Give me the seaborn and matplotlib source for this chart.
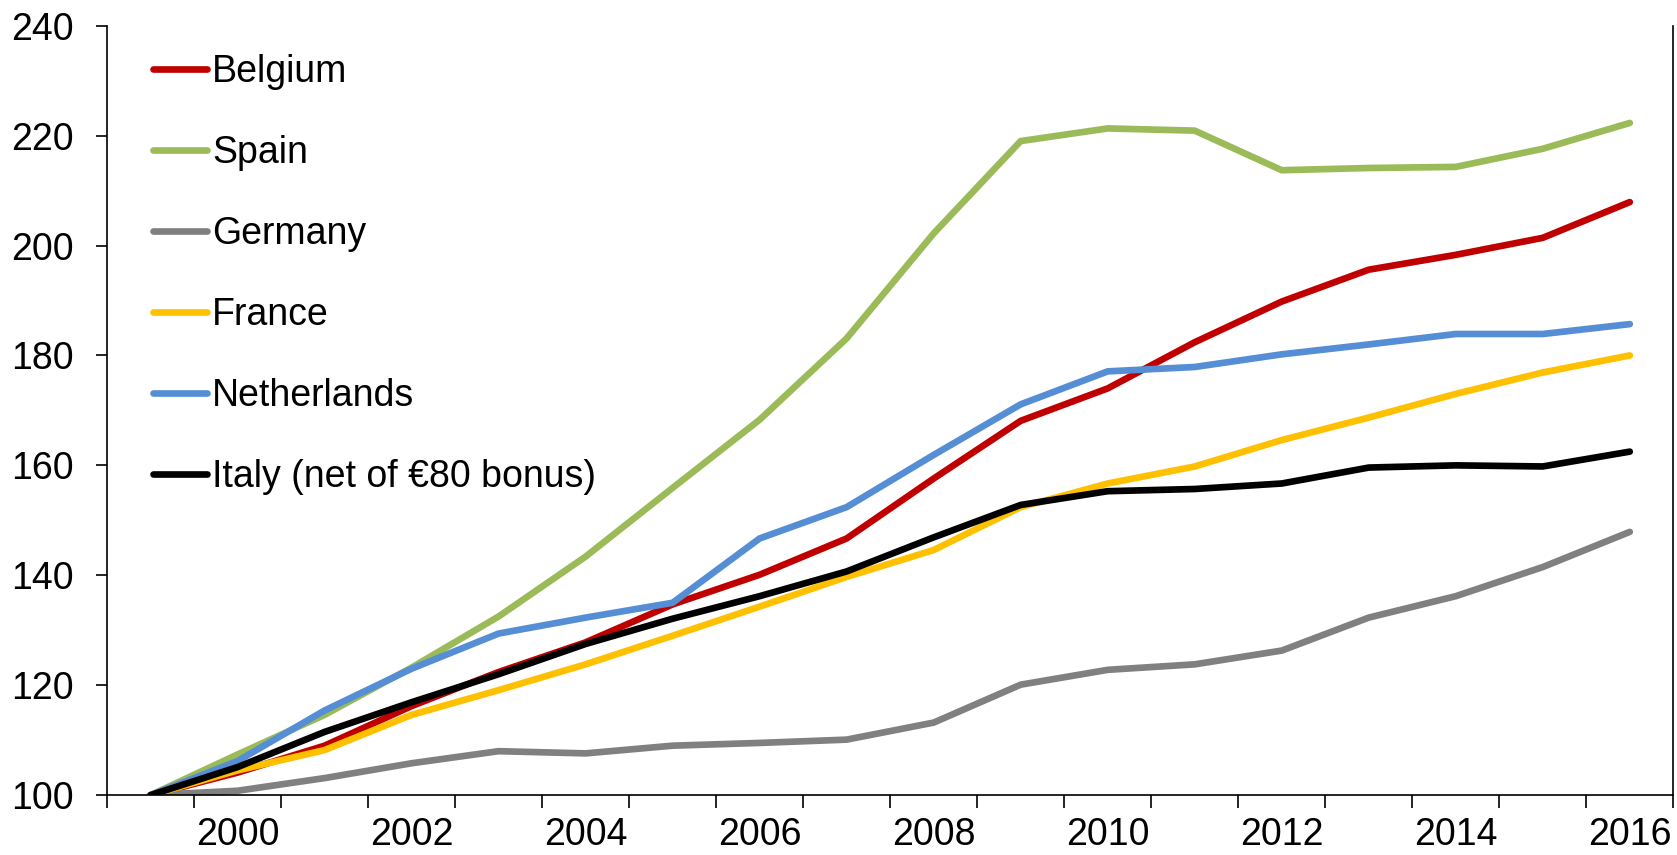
import pandas as pd
import matplotlib.pyplot as plt
import seaborn as sns

# Index values (1999 = 100)
years = list(range(1999, 2017))
belgium = [100, 104.1, 109.0, 116.2, 122.4, 127.8, 134.7, 140.1, 146.7, 157.6, 168.1, 174.0, 182.4, 189.8, 195.6, 198.3, 201.4, 207.9]
spain = [100, 107.4, 114.6, 123.2, 132.5, 143.4, 155.9, 168.3, 183.1, 202.2, 219.0, 221.3, 220.9, 213.7, 214.1, 214.3, 217.6, 222.3]
germany = [100, 100.8, 103.1, 105.8, 108.0, 107.6, 109.0, 109.5, 110.1, 113.2, 120.1, 122.8, 123.8, 126.3, 132.3, 136.2, 141.5, 147.9]
france = [100, 104.5, 108.2, 114.6, 119.1, 123.8, 129.0, 134.3, 139.7, 144.6, 152.4, 156.7, 159.8, 164.6, 168.7, 173.0, 176.9, 180.0]
netherlands = [100, 106.2, 115.4, 123.0, 129.4, 132.3, 135.0, 146.7, 152.4, 161.9, 171.1, 177.1, 177.9, 180.2, 182.0, 183.9, 183.9, 185.7]
italy = [100, 105.1, 111.5, 116.9, 122.0, 127.5, 132.1, 136.2, 140.7, 146.9, 152.8, 155.3, 155.7, 156.7, 159.6, 160.0, 159.8, 162.5]

series = {
    "Belgium": belgium,
    "Spain": spain,
    "Germany": germany,
    "France": france,
    "Netherlands": netherlands,
    "Italy (net of €80 bonus)": italy,
}
colors = ["#C00000", "#9BBB59", "#808080", "#FFC000", "#558ED5", "#000000"]

frames = []
for name, vals in series.items():
    frames.append(pd.DataFrame({"pos": range(len(years)), "value": vals, "country": name}))
df = pd.concat(frames, ignore_index=True)

sns.set_style("white", rc={"text.color": "black", "xtick.color": "black",
                           "ytick.color": "black", "axes.labelcolor": "black"})
plt.rcParams["font.family"] = ["Liberation Sans", "DejaVu Sans"]

fig = plt.figure(figsize=(16.77, 8.55), dpi=100)
ax = fig.add_axes([0.0638, 0.070, 0.934, 0.900])

sns.lineplot(data=df, x="pos", y="value", hue="country", palette=colors,
             linewidth=4.8, ax=ax, legend=True)

ax.set_xlim(-0.5, len(years) - 0.5)
ax.set_ylim(100, 240)
ax.set_yticks(range(100, 241, 20))
ax.set_xticks([i - 0.5 for i in range(len(years) + 1)])
ax.set_xticklabels([])
ax.set_xticks([i for i, y in enumerate(years) if y % 2 == 0], minor=True)
ax.set_xticklabels([str(y) for y in years if y % 2 == 0], minor=True)
ax.tick_params(axis="x", which="major", bottom=True, direction="out", length=9, width=1.2, color="black")
ax.tick_params(axis="x", which="minor", bottom=True, length=0, pad=16, labelsize=27)
ax.tick_params(axis="y", left=True, direction="out", length=8, width=1.2, color="black", labelsize=27, pad=16)
ax.set_xlabel("")
ax.set_ylabel("")

for side in ["left", "right", "bottom"]:
    ax.spines[side].set_visible(True)
    ax.spines[side].set_color("black")
    ax.spines[side].set_linewidth(1.2)
ax.spines["top"].set_visible(False)

leg = ax.legend(loc="upper left", frameon=False, fontsize=27, handlelength=1.43,
                handletextpad=0.14, labelspacing=1.2, bbox_to_anchor=(0.0294, 0.963),
                borderaxespad=0, borderpad=0)
for line in leg.get_lines():
    line.set_linewidth(4.8)

plt.savefig("out.png", dpi=100)
